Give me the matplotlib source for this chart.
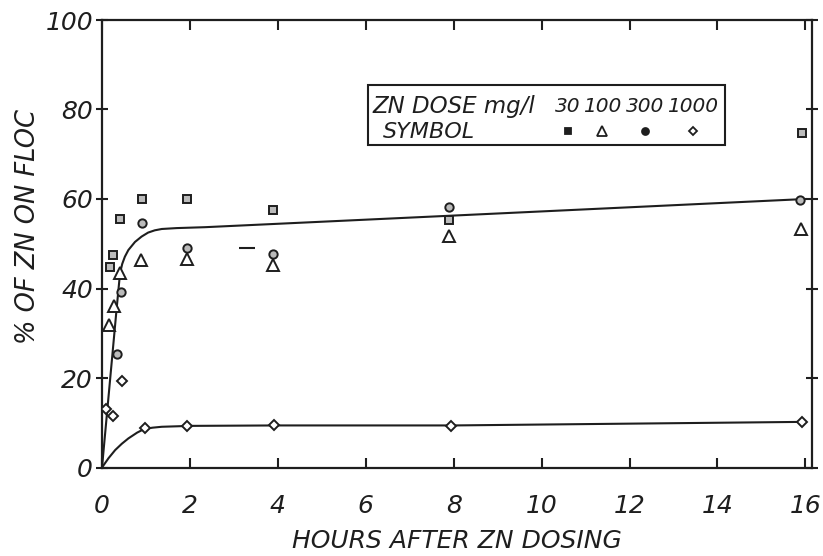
import matplotlib
matplotlib.use("Agg")
import matplotlib.pyplot as plt
from matplotlib.patches import Rectangle

# ---- data ----
x_ticks = [0, 2, 4, 6, 8, 10, 12, 14, 16]
y_ticks = [0, 20, 40, 60, 80, 100]

dose_labels = ["30", "100", "300", "1000"]

hours_30 = [0.18, 0.24, 0.41, 0.90, 1.93, 3.88, 7.89, 15.92]
pct_30 = [44.7, 47.5, 55.5, 59.9, 59.9, 57.5, 55.2, 74.7]

hours_100 = [0.17, 0.27, 0.41, 0.88, 1.93, 3.88, 7.89, 15.90]
pct_100 = [31.8, 36.1, 43.4, 46.4, 46.5, 45.3, 51.7, 53.2]

hours_300 = [0.33, 0.43, 0.90, 1.93, 3.88, 7.89, 15.88]
pct_300 = [25.4, 39.2, 54.6, 49.0, 47.7, 58.3, 59.8]

hours_1000 = [0.08, 0.26, 0.45, 0.98, 1.94, 3.92, 7.94, 15.92]
pct_1000 = [13.1, 11.5, 19.4, 8.8, 9.3, 9.5, 9.3, 10.2]

dash_hours = [3.29]
dash_pct = [49.1]

upper_curve_x = [0, 0.33, 0.41, 0.46, 0.52, 0.60, 0.75, 0.90, 1.05, 1.20, 1.36, 1.70, 2.34, 4.30, 8.0, 16.0]
upper_curve_y = [0, 35.2, 43.4, 45.5, 47.1, 48.6, 50.4, 51.6, 52.5, 53.0, 53.3, 53.5, 53.7, 54.6, 56.3, 60.0]

lower_curve_x = [0, 0.15, 0.30, 0.45, 0.60, 0.80, 0.96, 1.15, 1.36, 2.0, 4.0, 8.0, 16.0]
lower_curve_y = [0, 2.1, 3.9, 5.3, 6.5, 7.8, 8.6, 8.9, 9.1, 9.3, 9.4, 9.4, 10.2]

# ---- figure ----
W, H = 823, 556
fig = plt.figure(figsize=(W / 100, H / 100), dpi=100)
ax = fig.add_axes([102 / W, (H - 467.5) / H, 710 / W, 447.5 / H])
ax.set_xlim(0, 16.15)
ax.set_ylim(0, 100)

ink = "#1e1e1e"
font = dict(family="DejaVu Sans", style="oblique", color=ink)

for s in ax.spines.values():
    s.set_linewidth(1.6)
    s.set_color(ink)

ax.set_xticks(x_ticks)
ax.set_yticks(y_ticks)
ax.set_xticklabels([str(t) for t in x_ticks], fontsize=18, **font)
ax.set_yticklabels([str(t) for t in y_ticks], fontsize=18, **font)
ax.tick_params(axis="x", direction="in", length=7, width=1.5, pad=19,
               top=True, bottom=True, colors=ink)
ax.tick_params(axis="y", direction="inout", length=9, width=1.5, pad=2,
               left=True, right=True, colors=ink)

ax.set_xlabel("HOURS AFTER ZN DOSING", fontsize=18, labelpad=8, **font)
ax.set_ylabel("% OF ZN ON FLOC", fontsize=18.5, **font)
ax.yaxis.set_label_coords(-74 / 710, (467.5 - 226) / 447.5)
ax.yaxis.label.set_verticalalignment("center")

# curves
ax.plot(upper_curve_x, upper_curve_y, color=ink, lw=1.5, zorder=2)
ax.plot(lower_curve_x, lower_curve_y, color=ink, lw=1.5, zorder=2)

mk = dict(linestyle="none", markeredgecolor=ink, markeredgewidth=1.4, zorder=3)
ax.plot(hours_30, pct_30, marker="s", markersize=6, markerfacecolor="#bbbbbb", **mk)
ax.plot(hours_100, pct_100, marker="^", markersize=9, markerfacecolor="white", **mk)
ax.plot(hours_300, pct_300, marker="o", markersize=6, markerfacecolor="#bbbbbb", **mk)
ax.plot(hours_1000, pct_1000, marker="D", markersize=5.5, markerfacecolor="white", **mk)
ax.plot(dash_hours, dash_pct, marker="_", markersize=12, markeredgewidth=1.5,
        color=ink, linestyle="none")

# legend box drawn in axes coordinates
def px(xp, yp):
    return ((xp - 102) / 710, (467.5 - yp) / 447.5)

x0, y0 = px(368, 145)
x1, y1 = px(725, 85)
ax.add_patch(Rectangle((x0, y0), x1 - x0, y1 - y0, transform=ax.transAxes,
                       fill=False, lw=1.5, edgecolor=ink, zorder=4))
tx, ty = px(372, 106)
ax.text(tx, ty, "ZN DOSE mg/l", transform=ax.transAxes, fontsize=16.5,
        ha="left", va="center", **font)
tx, ty = px(383, 132)
ax.text(tx, ty, "SYMBOL", transform=ax.transAxes, fontsize=16,
        ha="left", va="center", **font)

col_px = [568, 602, 645, 693]
sym_styles = [("s", 4.5, ink), ("^", 7, "white"), ("o", 5, ink), ("D", 4.5, "white")]
for lab, cx, (m, ms, fc) in zip(dose_labels, col_px, sym_styles):
    tx, ty = px(cx, 106)
    ax.text(tx, ty, lab, transform=ax.transAxes, fontsize=14.5,
            ha="center", va="center", **font)
    sx, sy = px(cx, 131)
    ax.plot([sx], [sy], transform=ax.transAxes, marker=m, markersize=ms,
            markerfacecolor=fc, markeredgecolor=ink, markeredgewidth=1.3,
            linestyle="none", zorder=5)

fig.savefig("out.png", dpi=100, facecolor="white")
